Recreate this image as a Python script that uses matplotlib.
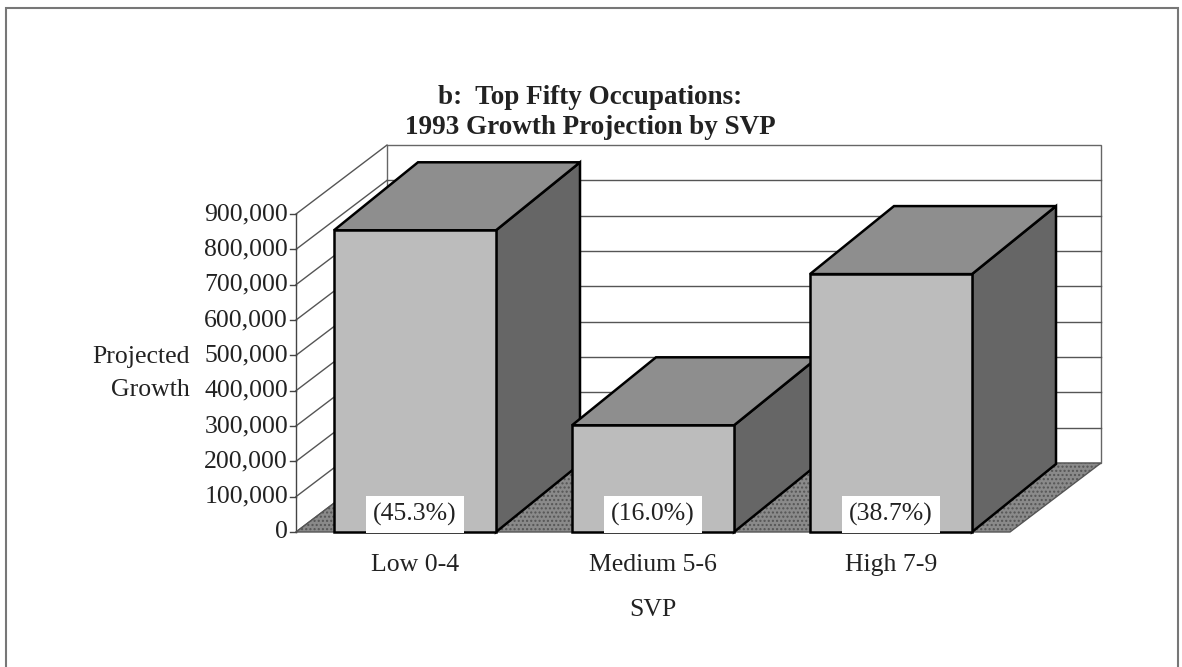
import matplotlib.pyplot as plt
from matplotlib.patches import Polygon, Rectangle

# data
categories = ["Low 0-4", "Medium 5-6", "High 7-9"]
growth = [854000, 302000, 730000]
shares = ["(45.3%)", "(16.0%)", "(38.7%)"]
y_ticks = [0, 100000, 200000, 300000, 400000, 500000, 600000, 700000, 800000, 900000]
y_tick_labels = ["0", "100,000", "200,000", "300,000", "400,000", "500,000",
                 "600,000", "700,000", "800,000", "900,000"]

plt.rcParams['font.family'] = ['Liberation Serif', 'DejaVu Serif']

W, H = 1182, 667
X0 = 296          # pixel where the front plane starts (x = -0.5)
Y0 = 532          # pixel of value 0
CAT_PX = 238      # pixels per category
VAL_PX = 35.33 / 100000   # pixels per unit of value

# oblique depth of walls / bars, in data units
DX, DY = 91 / CAT_PX, 69 / VAL_PX
BDX, BDY = 84 / CAT_PX, 68 / VAL_PX
BAR_W = 162 / CAT_PX
YMAX = y_ticks[-1]

FRONT = "#bcbcbc"
TOP = "#8e8e8e"
SIDE = "#666666"
FLOOR = "#8a8a8a"
FS = 18.5
TXT = "#222222"

fig = plt.figure(figsize=(W / 100, H / 100), dpi=100)
ax = fig.add_axes([0, 0, 1, 1])
ax.set_xlim(-0.5 - X0 / CAT_PX, -0.5 + (W - X0) / CAT_PX)
ax.set_ylim(-(H - Y0) / VAL_PX, Y0 / VAL_PX)
ax.axis("off")

# outer frame
ax.add_patch(Rectangle((-0.5 - (X0 - 6) / CAT_PX, -(H - Y0 + 10) / VAL_PX),
                       1172 / CAT_PX, (H - 8 + 10) / VAL_PX,
                       fill=False, ec="#777777", lw=1.5, zorder=0))

x_left, x_right = -0.5, len(categories) - 0.5

# back wall and gridlines
ax.add_patch(Rectangle((x_left + DX, DY), x_right - x_left, YMAX,
                       fc="white", ec="#666666", lw=1.0, zorder=1))
for v in y_ticks[1:-1]:
    ax.plot([x_left + DX, x_right + DX], [v + DY, v + DY], color="#555555", lw=1.0, zorder=1)

# left wall lines
for v in y_ticks:
    ax.plot([x_left, x_left + DX], [v, v + DY], color="#555555", lw=1.0, zorder=1)
ax.plot([x_left, x_left], [0, YMAX], color="#444444", lw=1.0, zorder=1)

# floor
ax.add_patch(Polygon([(x_left, 0), (x_right, 0), (x_right + DX, DY), (x_left + DX, DY)],
                     closed=True, fc=FLOOR, ec="#555555", lw=1.0, hatch="....", zorder=2))

# y ticks and labels
tick_len = 6 / CAT_PX
for v, lab in zip(y_ticks, y_tick_labels):
    ax.plot([x_left - tick_len, x_left], [v, v], color="#444444", lw=1.0, zorder=2)
    ax.text(x_left - 8 / CAT_PX, v, lab, ha="right", va="center", fontsize=FS, color=TXT)

# bars
for i, (val, share) in enumerate(zip(growth, shares)):
    l, r = i - BAR_W / 2, i + BAR_W / 2
    z = 3 + i
    ax.add_patch(Polygon([(r, 0), (r + BDX, BDY), (r + BDX, val + BDY), (r, val)],
                         closed=True, fc=SIDE, ec="black", lw=1.8, zorder=z))
    ax.add_patch(Polygon([(l, val), (r, val), (r + BDX, val + BDY), (l + BDX, val + BDY)],
                         closed=True, fc=TOP, ec="black", lw=1.8, zorder=z))
    ax.add_patch(Rectangle((l, 0), BAR_W, val, fc=FRONT, ec="black", lw=1.8, zorder=z))
    ax.text(i, 50000, share, ha="center", va="center", fontsize=FS, color=TXT,
            zorder=z + 0.5,
            bbox=dict(boxstyle="square,pad=0.28", fc="white", ec="none"))
    ax.text(i, -93000, categories[i], ha="center", va="center", fontsize=FS, color=TXT)

ax.text(1, -222000, "SVP", ha="center", va="center", fontsize=FS, color=TXT)
ax.text(-0.5 - 106 / CAT_PX, 495000, "Projected", ha="right", va="center", fontsize=FS, color=TXT)
ax.text(-0.5 - 106 / CAT_PX, 403000, "Growth", ha="right", va="center", fontsize=FS, color=TXT)

fig.text(590 / W, 1 - 98 / H, "b:  Top Fifty Occupations:", ha="center", va="center",
         fontsize=19.5, fontweight="bold", color=TXT)
fig.text(590 / W, 1 - 127 / H, "1993 Growth Projection by SVP", ha="center", va="center",
         fontsize=19.5, fontweight="bold", color=TXT)

fig.savefig("out.png", dpi=100, facecolor="white")
